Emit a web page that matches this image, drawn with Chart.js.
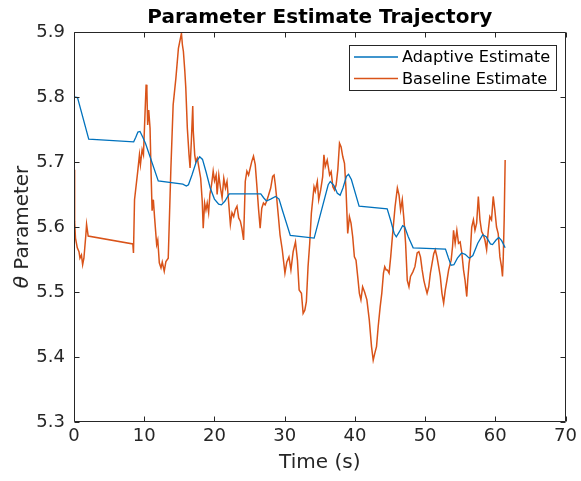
<!DOCTYPE html>
<html><head><meta charset="utf-8">
<script src="https://cdn.jsdelivr.net/npm/chart.js@4.4.0/dist/chart.umd.min.js"></script>
<style>html,body{margin:0;padding:0;background:#fff;}canvas{display:block;}</style>
</head><body>
<canvas id="c" width="581" height="481"></canvas>
<script>
const titleText = 'Parameter Estimate Trajectory';
const xLabel = 'Time (s)';
const yLabelSym = 'θ';
const yLabelText = ' Parameter';
const seriesNames = ['Adaptive Estimate', 'Baseline Estimate'];
const xTicks = [0, 10, 20, 30, 40, 50, 60, 70];
const yTicks = [5.3, 5.4, 5.5, 5.6, 5.7, 5.8, 5.9];

const adaptiveT = [0,0.5,2.1,8.5,8.8,9.1,9.4,9.8,10.2,12.0,15.5,16.0,16.3,16.8,17.4,17.9,18.3,18.8,19.4,20.0,20.6,21.0,21.5,22.1,26.6,27.0,27.4,28.0,28.7,29.2,29.7,30.8,34.2,36.2,36.5,37.0,37.5,37.9,38.3,38.8,39.1,39.5,40.6,44.6,45.1,45.6,45.9,46.3,46.8,47.1,47.6,48.3,52.9,53.3,53.7,54.1,54.6,55.2,55.7,56.3,56.8,57.5,58.2,58.7,59.3,59.6,60.1,60.5,60.9,61.4];
const adaptiveV = [5.800,5.799,5.735,5.731,5.738,5.746,5.747,5.738,5.728,5.671,5.666,5.663,5.665,5.680,5.700,5.708,5.704,5.685,5.660,5.643,5.635,5.634,5.640,5.651,5.651,5.645,5.640,5.643,5.647,5.643,5.625,5.587,5.583,5.665,5.670,5.664,5.652,5.649,5.660,5.678,5.681,5.673,5.632,5.628,5.610,5.590,5.585,5.592,5.602,5.600,5.585,5.568,5.566,5.553,5.541,5.542,5.552,5.560,5.558,5.552,5.556,5.575,5.588,5.585,5.574,5.573,5.580,5.584,5.579,5.568];

const baselineT = [0.00,0.04,0.14,0.21,0.47,0.71,0.85,1.06,1.23,1.41,1.69,1.79,2.02,8.38,8.47,8.62,9.08,9.32,9.46,9.70,9.89,10.27,10.38,10.49,10.64,10.83,10.97,11.12,11.30,11.48,11.77,11.93,12.15,12.39,12.57,12.85,13.09,13.42,13.80,14.12,14.51,14.87,15.30,15.44,15.58,15.78,15.92,16.14,16.38,16.53,16.71,16.91,16.99,17.19,17.33,17.56,18.04,18.26,18.40,18.60,18.79,18.97,19.17,19.35,19.59,19.82,20.01,20.24,20.38,20.62,20.86,21.09,21.33,21.57,21.79,22.03,22.27,22.50,22.74,22.98,23.21,23.45,23.69,23.91,24.15,24.39,24.62,24.86,25.10,25.32,25.56,25.81,26.03,26.27,26.51,26.74,26.98,27.22,27.44,27.68,28.01,28.29,28.49,28.67,28.86,29.10,29.34,29.66,30.04,30.30,30.61,30.89,31.21,31.54,31.82,32.06,32.39,32.63,32.87,33.09,33.33,33.57,33.80,34.18,34.36,34.65,34.85,35.13,35.41,35.59,35.78,36.06,36.40,36.62,36.86,37.10,37.33,37.57,37.81,38.04,38.28,38.52,38.74,38.98,39.22,39.45,39.69,39.93,40.16,40.40,40.64,40.86,41.10,41.38,41.71,42.05,42.37,42.61,42.84,43.08,43.32,43.60,43.83,44.07,44.25,44.45,44.63,44.87,45.10,45.34,45.72,46.05,46.29,46.51,46.75,46.99,47.22,47.46,47.70,47.92,48.26,48.55,48.87,49.11,49.34,49.58,49.82,50.04,50.28,50.52,50.75,50.99,51.23,51.45,51.69,51.93,52.16,52.40,52.64,52.87,53.11,53.35,53.71,53.91,54.05,54.28,54.52,54.76,54.99,55.23,55.47,55.69,55.93,56.07,56.26,56.40,56.64,56.88,57.10,57.34,57.58,57.81,58.05,58.29,58.52,58.76,59.00,59.22,59.46,59.70,59.93,60.17,60.41,60.65,60.88,61.02,61.12,61.26,61.40];
const baselineV = [5.688,5.634,5.609,5.583,5.568,5.562,5.552,5.557,5.542,5.552,5.588,5.604,5.586,5.574,5.560,5.642,5.686,5.711,5.696,5.719,5.711,5.819,5.811,5.757,5.780,5.752,5.686,5.625,5.642,5.614,5.573,5.580,5.545,5.537,5.546,5.532,5.547,5.552,5.691,5.788,5.829,5.875,5.898,5.880,5.870,5.840,5.814,5.752,5.711,5.691,5.732,5.786,5.747,5.711,5.701,5.706,5.675,5.640,5.598,5.637,5.626,5.637,5.622,5.650,5.665,5.686,5.671,5.680,5.650,5.680,5.660,5.645,5.675,5.660,5.670,5.637,5.604,5.622,5.616,5.627,5.632,5.614,5.609,5.598,5.580,5.670,5.686,5.680,5.691,5.701,5.709,5.696,5.665,5.629,5.598,5.629,5.637,5.634,5.640,5.648,5.660,5.678,5.680,5.665,5.645,5.617,5.588,5.565,5.529,5.546,5.554,5.534,5.562,5.577,5.549,5.503,5.498,5.467,5.472,5.485,5.539,5.575,5.621,5.662,5.655,5.670,5.642,5.657,5.677,5.711,5.693,5.703,5.680,5.685,5.662,5.657,5.665,5.688,5.729,5.723,5.708,5.698,5.657,5.590,5.616,5.606,5.585,5.554,5.549,5.524,5.498,5.488,5.508,5.500,5.488,5.457,5.416,5.395,5.406,5.416,5.447,5.477,5.498,5.529,5.539,5.534,5.534,5.529,5.554,5.585,5.631,5.660,5.649,5.626,5.642,5.611,5.575,5.518,5.508,5.524,5.531,5.539,5.560,5.562,5.554,5.534,5.518,5.508,5.498,5.508,5.529,5.544,5.559,5.565,5.554,5.539,5.524,5.498,5.483,5.503,5.518,5.534,5.549,5.570,5.595,5.575,5.595,5.575,5.577,5.560,5.534,5.518,5.493,5.518,5.544,5.554,5.600,5.611,5.595,5.606,5.647,5.611,5.593,5.588,5.580,5.565,5.595,5.616,5.611,5.647,5.626,5.600,5.590,5.554,5.539,5.524,5.549,5.611,5.703];

const colors = ['#0072BD', '#D95319'];
const axisColor = '#262626';
const FONT = '"DejaVu Sans", sans-serif';

function pts(t, v) { return t.map((x, i) => ({ x: x, y: v[i] })); }

const decor = {
  id: 'decor',
  afterDraw(chart) {
    const ctx = chart.ctx, a = chart.chartArea;
    const xs = chart.scales.x, ys = chart.scales.y;
    ctx.save();
    ctx.strokeStyle = axisColor; ctx.lineWidth = 1;
    const L = Math.round(a.left) + 0.5, R = Math.round(a.right) - 0.5;
    const T = Math.round(a.top) + 0.5, B = Math.round(a.bottom) - 0.5;
    ctx.beginPath();
    ctx.rect(L, T, R - L, B - T);
    ctx.stroke();
    const tl = 5;
    ctx.beginPath();
    xTicks.forEach(v => {
      const p = Math.round(xs.getPixelForValue(v)) + 0.5;
      ctx.moveTo(p, B); ctx.lineTo(p, B - tl);
      ctx.moveTo(p, T); ctx.lineTo(p, T + tl);
    });
    yTicks.forEach(v => {
      const p = Math.round(ys.getPixelForValue(v)) + 0.5;
      ctx.moveTo(L, p); ctx.lineTo(L + tl, p);
      ctx.moveTo(R, p); ctx.lineTo(R - tl, p);
    });
    ctx.stroke();
    // title
    ctx.fillStyle = '#000';
    ctx.font = 'bold 20px ' + FONT;
    ctx.textAlign = 'center'; ctx.textBaseline = 'alphabetic';
    ctx.fillText(titleText, (a.left + a.right) / 2, 23);
    // x label
    ctx.fillStyle = axisColor;
    ctx.font = '20px ' + FONT;
    ctx.fillText(xLabel, (a.left + a.right) / 2, 468);
    // y label
    ctx.save();
    ctx.translate(28, (a.top + a.bottom) / 2);
    ctx.rotate(-Math.PI / 2);
    ctx.font = 'italic 20px ' + FONT;
    const w1 = ctx.measureText(yLabelSym).width;
    ctx.font = '20px ' + FONT;
    const w2 = ctx.measureText(yLabelText).width;
    const x0 = -(w1 + w2) / 2;
    ctx.textAlign = 'left';
    ctx.font = 'italic 20px ' + FONT;
    ctx.fillText(yLabelSym, x0, 0);
    ctx.font = '20px ' + FONT;
    ctx.fillText(yLabelText, x0 + w1, 0);
    ctx.restore();
    // legend
    const lx = 349.5, ly = 45.5, lw = 207, lh = 45;
    ctx.fillStyle = '#fff';
    ctx.fillRect(lx, ly, lw, lh);
    ctx.strokeStyle = axisColor; ctx.lineWidth = 1;
    ctx.strokeRect(lx, ly, lw, lh);
    ctx.font = '16.2px ' + FONT;
    ctx.textAlign = 'left'; ctx.textBaseline = 'middle';
    chart.data.datasets.forEach((ds, i) => {
      const yy = 57 + i * 21.5;
      ctx.strokeStyle = ds.borderColor; ctx.lineWidth = 1.3;
      ctx.beginPath(); ctx.moveTo(354, yy); ctx.lineTo(398, yy); ctx.stroke();
      ctx.fillStyle = '#000';
      ctx.fillText(ds.label, 402, yy + 1);
    });
    ctx.restore();
  }
};

new Chart(document.getElementById('c'), {
  type: 'line',
  data: {
    datasets: [
      { label: seriesNames[0], data: pts(adaptiveT, adaptiveV), borderColor: colors[0], borderWidth: 1.3, pointRadius: 0, tension: 0, fill: false },
      { label: seriesNames[1], data: pts(baselineT, baselineV), borderColor: colors[1], borderWidth: 1.5, pointRadius: 0, tension: 0, fill: false }
    ]
  },
  options: {
    responsive: false,
    animation: false,
    devicePixelRatio: 1,
    layout: { padding: { left: 0, right: 12, top: 32, bottom: 0 } },
    plugins: { legend: { display: false }, title: { display: false }, tooltip: { enabled: false } },
    scales: {
      x: {
        type: 'linear', min: 0, max: 70,
        afterBuildTicks: s => { s.ticks = xTicks.map(v => ({ value: v })); },
        afterFit: s => { s.height = 59; },
        grid: { display: false, drawTicks: false },
        border: { display: false },
        ticks: { color: axisColor, font: { family: FONT, size: 18 }, padding: 4, maxRotation: 0, autoSkip: false }
      },
      y: {
        type: 'linear', min: 5.3, max: 5.9,
        afterBuildTicks: s => { s.ticks = yTicks.map(v => ({ value: v })); },
        afterFit: s => { s.width = 74; },
        grid: { display: false, drawTicks: false },
        border: { display: false },
        ticks: { color: axisColor, font: { family: FONT, size: 18 }, padding: 9, autoSkip: false, callback: v => v.toFixed(1) }
      }
    }
  },
  plugins: [decor]
});
</script>
</body></html>
